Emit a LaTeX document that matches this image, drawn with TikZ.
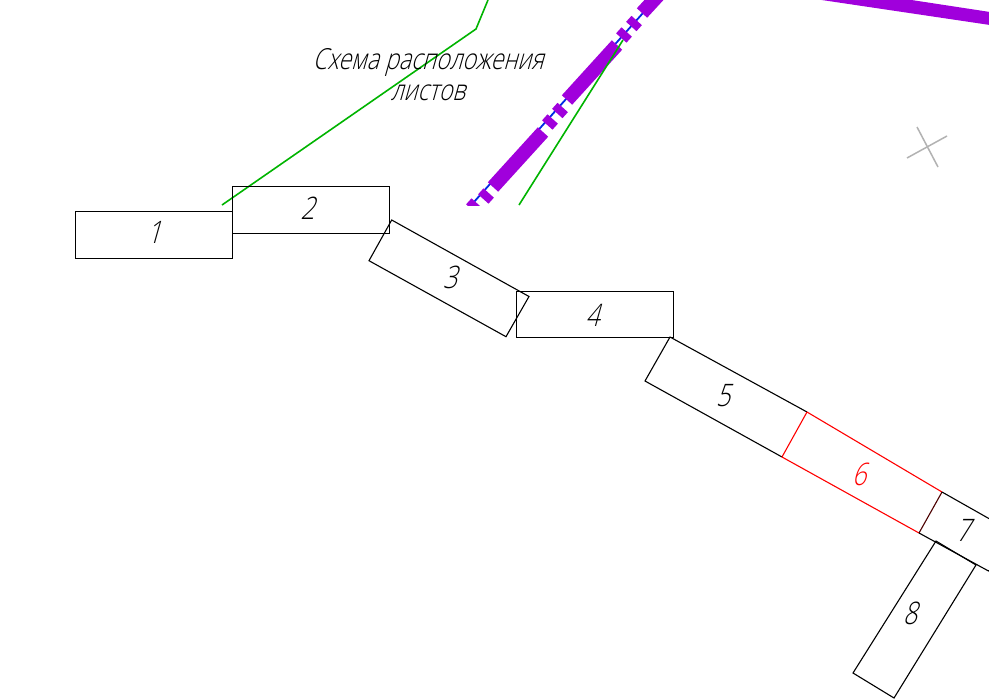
\documentclass[tikz,border=0pt]{standalone}
\usepackage{fontspec}
\newfontfamily\gostfont[FakeSlant=0.28,FakeStretch=0.8]{Open Sans Light}
\definecolor{pur}{RGB}{160,0,220}
\definecolor{grn}{RGB}{0,180,0}
\definecolor{blu}{RGB}{0,40,230}
\tikzset{
  sheet/.style={draw=black,line width=1.1pt,line join=miter},
  redsheet/.style={draw=red,line width=1.1pt},
  num/.style={font=\gostfont\fontsize{31}{31}\selectfont,text=black,inner sep=0pt},
  lab/.style={font=\gostfont\fontsize{29}{31}\selectfont,text=black,inner sep=0pt,align=center},
  greenline/.style={draw=grn,line width=1.6pt},
  fat/.style={draw=pur,line width=14pt},
  tick/.style={draw=pur,line width=14pt},
  cross/.style={draw=black!30,line width=1.5pt}
}
\begin{document}
\begin{tikzpicture}[x=1pt,y=-1pt]
\useasboundingbox (0,0) rectangle (989,699);
\clip (0,0) rectangle (989,699);
\fill[white] (0,0) rectangle (989,699);
% axis
\begin{scope}
\clip (400,0) rectangle (700,205);
\coordinate (a0) at (465,212); \coordinate (a1) at (660,-6);
\draw[blu,line width=1.8pt] (a0) -- (a1);
\draw[fat] (493,187) -- (543,132);
\draw[fat] (567,100) -- (617,45);
\draw[fat] (642,13) -- (665,-12);
\foreach \cx/\cy in {474/206,486/196,550/122,560/110.5,624/35,634/23.5}{
  \draw[tick] ({\cx-2.7},{\cy+3}) -- ({\cx+2.7},{\cy-3});
}
\end{scope}
\fill[pur] (815,-1) -- (905,-1) -- (990,12) -- (990,25) -- cycle;
% green
\coordinate (g0) at (222,205); \coordinate (g1) at (476,29); \coordinate (g2) at (488,0);
\draw[greenline] (g0) -- (g1) -- (g2);
\coordinate (g3) at (519,205); \coordinate (g4) at (623,40);
\draw[greenline] (g3) -- (g4);
% sheets
\draw[sheet] (75.5,211.5) rectangle (232.5,258.5);
\draw[sheet] (232.5,186.5) rectangle (389.5,233.5);
\draw[sheet] (391.7,220) -- (529,296.5) -- (506,336.7) -- (369,260.7) -- cycle;
\draw[sheet] (516.5,291.5) rectangle (673.5,337.5);
\draw[sheet] (807,412) -- (670,337) -- (645,381) -- (782,457);
\draw[redsheet] (807,412) -- (942,492);
\draw[redsheet] (782,457) -- (919,533);
\draw[redsheet] (807,412) -- (782,457);
\draw[sheet,draw=black!70!red] (942,492) -- (919,533);
\draw[sheet] (942,492) -- (995,522);
\draw[sheet] (919,533) -- (988.5,571) -- (995,566);
\draw[sheet] (936,541) -- (976,565) -- (894,698) -- (853,673) -- cycle;
% labels
\node[num] (n1) at (154,232) {1};
\node[num] (n2) at (307.5,208) {2};
\node[num] (n3) at (450,277) {3};
\node[num] (n4) at (592.5,315) {4};
\node[num] (n5) at (723,396) {5};
\node[num,text=red] (n6) at (859,474) {6};
\node[num] (n7) at (963,530) {7};
\node[num] (n8) at (910,613) {8};
\node[lab] (title) at (428,75) {Схема расположения\\листов};
% cross
\coordinate (x0) at (907,158); \coordinate (x1) at (947,136);
\coordinate (x2) at (917,127); \coordinate (x3) at (938,167);
\draw[cross] (x0) -- (x1);
\draw[cross] (x2) -- (x3);
\end{tikzpicture}
\end{document}
